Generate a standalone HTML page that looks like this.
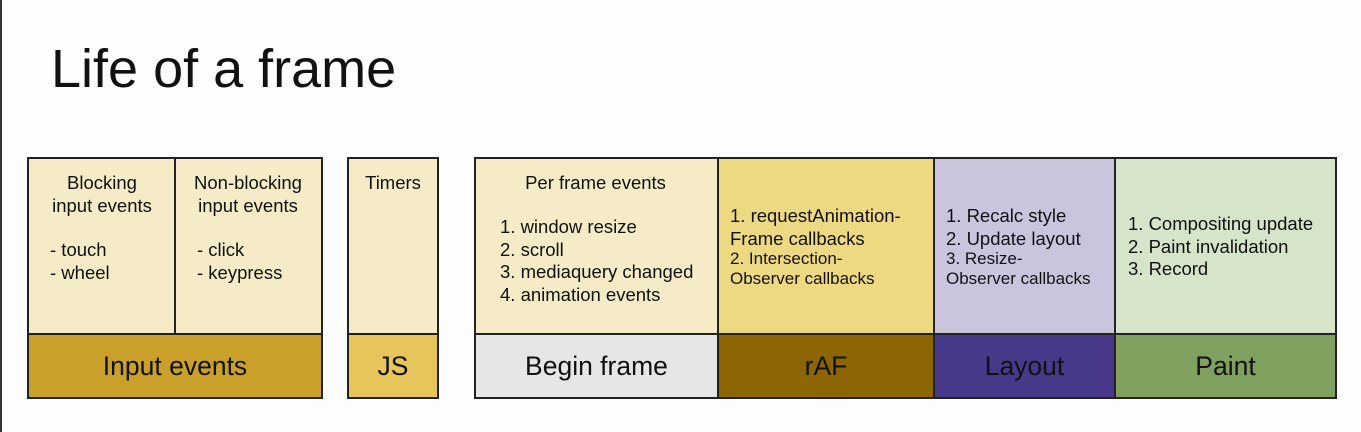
<!DOCTYPE html>
<html><head><meta charset="utf-8"><style>
body{margin:0;width:1361px;height:432px;background:#fdfdfd;position:relative;overflow:hidden;font-family:"Liberation Sans",sans-serif;color:#111}
.b{position:absolute;box-sizing:border-box;border:2px solid #222}
.t{position:absolute;font-size:18.5px;line-height:22.5px;white-space:nowrap}
.l{position:absolute;font-size:26.5px;text-align:center;line-height:62px}
</style></head><body>
<div style="position:absolute;left:0;top:0;width:2px;height:432px;background:#333"></div>
<div style="position:absolute;left:51px;top:37px;font-size:54px;line-height:64px">Life of a frame</div>

<div class="b" style="left:27px;top:157px;width:149px;height:178px;background:#f5ebc6"></div>
<div class="b" style="left:174px;top:157px;width:149px;height:178px;background:#f5ebc6"></div>
<div class="b l" style="left:27px;top:333px;width:296px;height:66px;background:#c9a12a">Input events</div>
<div class="t" style="left:40px;top:172px;width:124px;text-align:center">Blocking<br>input events</div>
<div class="t" style="left:50px;top:239px">- touch<br>- wheel</div>
<div class="t" style="left:181px;top:172px;width:134px;text-align:center">Non-blocking<br>input events</div>
<div class="t" style="left:197px;top:239px">- click<br>- keypress</div>

<div class="b" style="left:347px;top:157px;width:92px;height:178px;background:#f5ebc6"></div>
<div class="b l" style="left:347px;top:333px;width:92px;height:66px;background:#e6c55a">JS</div>
<div class="t" style="left:347px;top:172px;width:92px;text-align:center">Timers</div>

<div class="b" style="left:474px;top:157px;width:245px;height:178px;background:#f5ebc6"></div>
<div class="b" style="left:717px;top:157px;width:218px;height:178px;background:#eed983"></div>
<div class="b" style="left:933px;top:157px;width:183px;height:178px;background:#cbc4dd"></div>
<div class="b" style="left:1114px;top:157px;width:223px;height:178px;background:#d6e4c9"></div>
<div class="b l" style="left:474px;top:333px;width:245px;height:66px;background:#e6e6e6">Begin frame</div>
<div class="b l" style="left:717px;top:333px;width:218px;height:66px;background:#8b6602">rAF</div>
<div class="b l" style="left:933px;top:333px;width:183px;height:66px;background:#47388a">Layout</div>
<div class="b l" style="left:1114px;top:333px;width:223px;height:66px;background:#7fa05e">Paint</div>

<div class="t" style="left:474px;top:172px;width:243px;text-align:center">Per frame events</div>
<div class="t" style="left:500px;top:216px">1. window resize<br>2. scroll<br>3. mediaquery changed<br>4. animation events</div>
<div class="t" style="left:730px;top:205px">1. requestAnimation-<br>Frame callbacks</div>
<div class="t" style="left:730px;top:249px;font-size:17px;line-height:20px">2. Intersection-<br>Observer callbacks</div>
<div class="t" style="left:946px;top:205px">1. Recalc style<br>2. Update layout</div>
<div class="t" style="left:946px;top:249px;font-size:17px;line-height:20px">3. Resize-<br>Observer callbacks</div>
<div class="t" style="left:1128px;top:213px">1. Compositing update<br>2. Paint invalidation<br>3. Record</div>
</body></html>
